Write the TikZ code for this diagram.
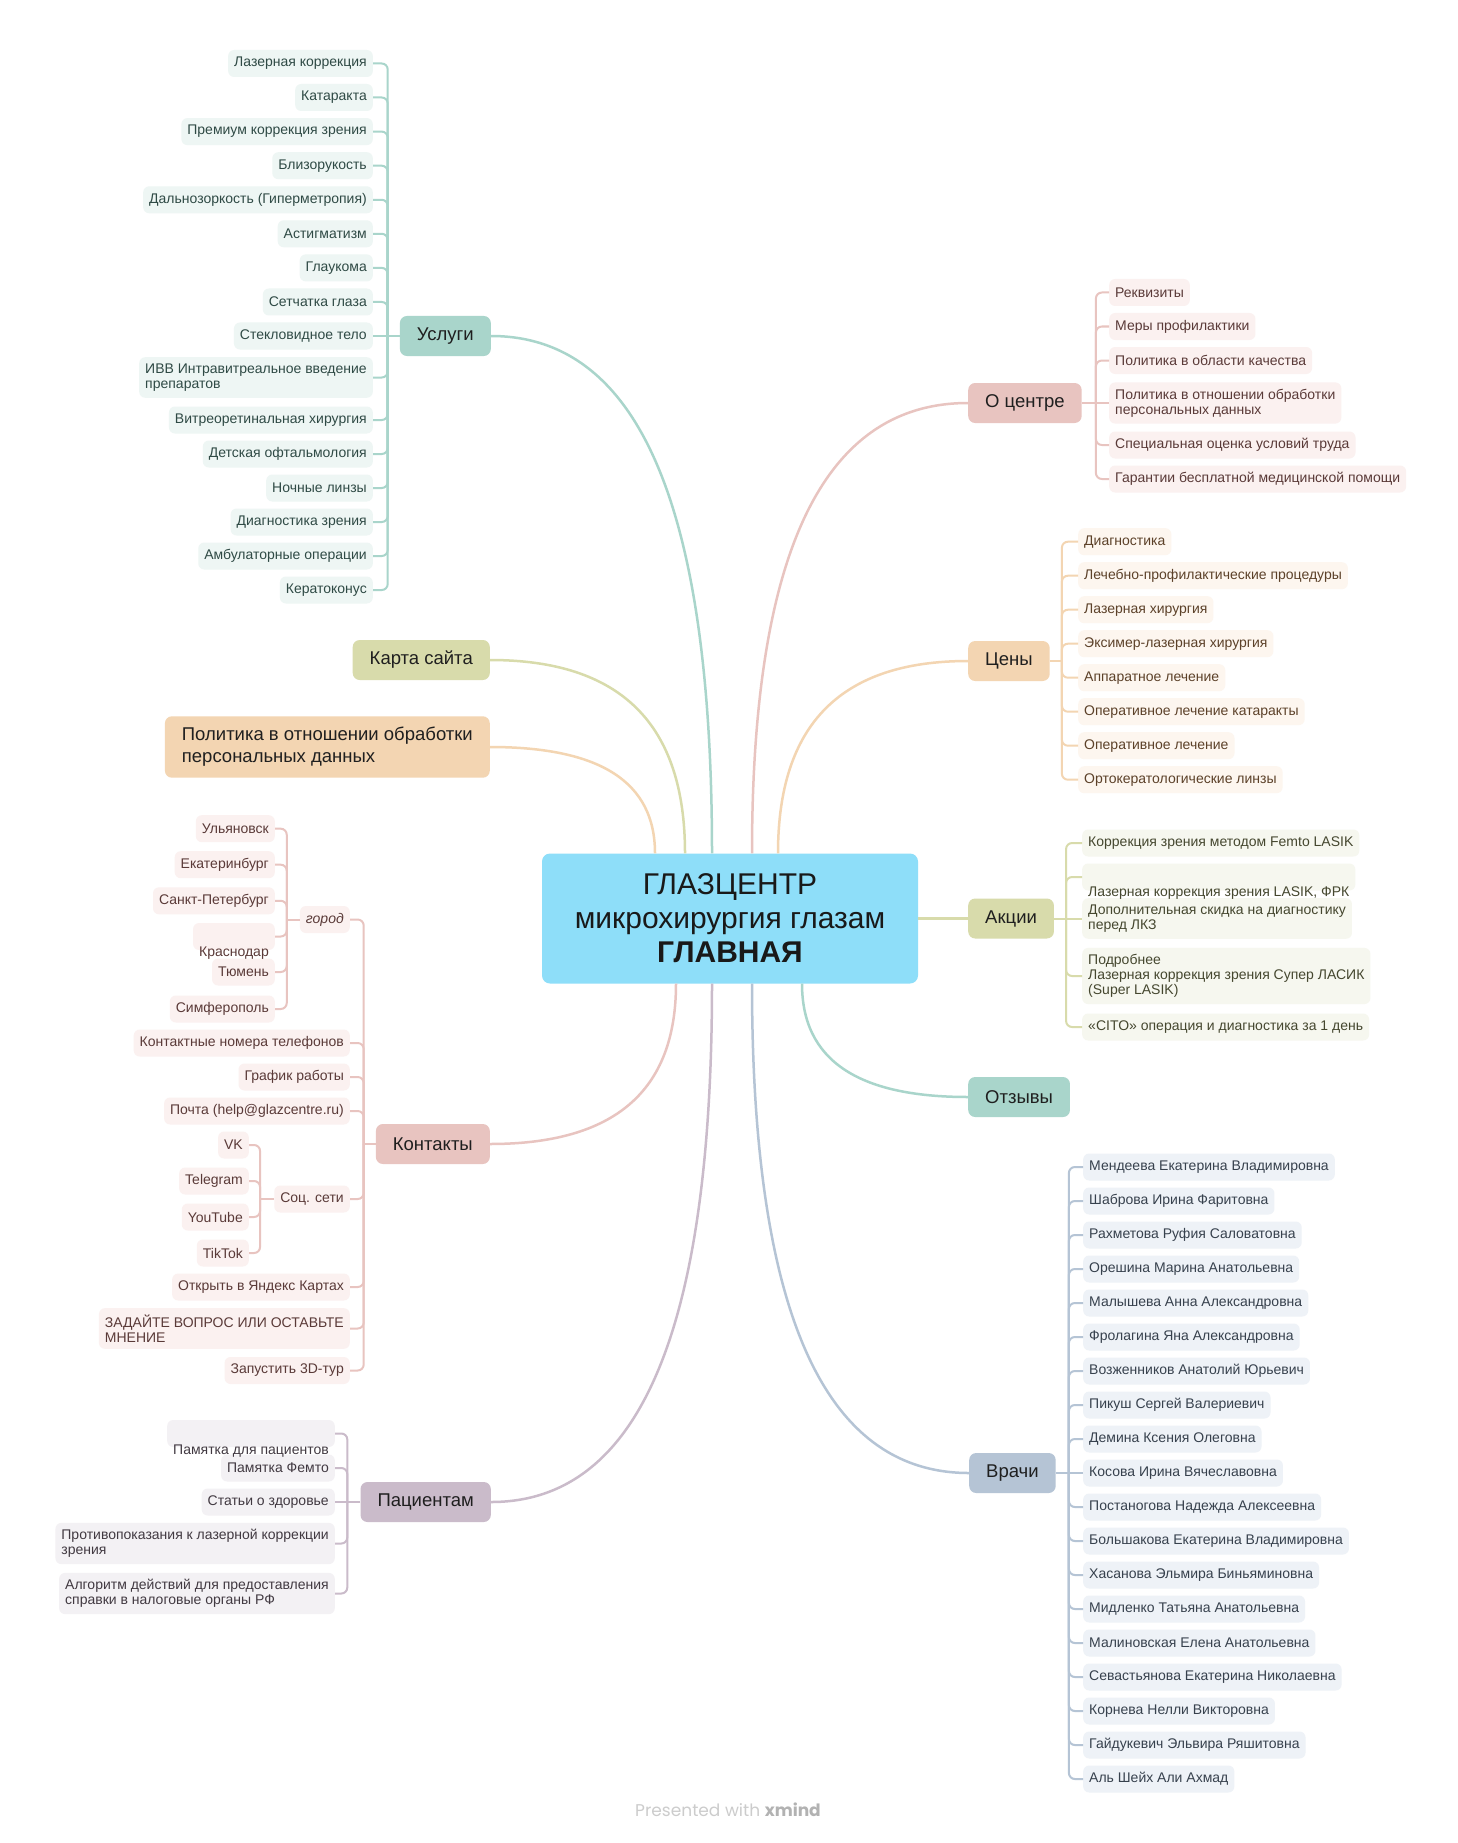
\documentclass[tikz,border=0pt]{standalone}
\usepackage{fontspec}
\setmainfont{Liberation Sans}
\newfontfamily\footfont{Poppins}
\usetikzlibrary{calc}

\definecolor{tealhub}{HTML}{A9D5CB}
\definecolor{tealbg}{HTML}{EEF6F4}
\definecolor{tealtxt}{HTML}{2F4A45}
\definecolor{pinkhub}{HTML}{E8C4C0}
\definecolor{pinkbg}{HTML}{FBF1F0}
\definecolor{pinktxt}{HTML}{5A3A38}
\definecolor{peachhub}{HTML}{F3D5B2}
\definecolor{peachbg}{HTML}{FDF6EF}
\definecolor{peachtxt}{HTML}{5C4129}
\definecolor{olivehub}{HTML}{D8DBAB}
\definecolor{olivebg}{HTML}{F6F7EF}
\definecolor{olivetxt}{HTML}{45472F}
\definecolor{mauvehub}{HTML}{CABBCA}
\definecolor{mauvebg}{HTML}{F3F1F4}
\definecolor{mauvetxt}{HTML}{413941}
\definecolor{slatehub}{HTML}{B5C4D5}
\definecolor{slatebg}{HTML}{EEF2F7}
\definecolor{slatetxt}{HTML}{37414D}
\definecolor{corefill}{HTML}{8EDEF9}

\tikzset{
  core node/.style={rounded corners=8pt, fill=corefill, minimum width=376pt, minimum height=130pt, align=center, font=\fontsize{30}{34}\selectfont, text=black!90},
  main node/.style={rounded corners=7pt, fill=#1, inner xsep=17pt, inner ysep=11pt, minimum height=40pt, align=left, font=\fontsize{18.5}{22}\selectfont, text=black!88},
  leaf node/.style={rounded corners=6pt, inner xsep=6pt, inner ysep=6.5pt, minimum height=27pt, font=\fontsize{14}{15}\selectfont},
  teal leaf/.style={leaf node, fill=tealbg, text=tealtxt},
  pink leaf/.style={leaf node, fill=pinkbg, text=pinktxt},
  peach leaf/.style={leaf node, fill=peachbg, text=peachtxt},
  olive leaf/.style={leaf node, fill=olivebg, text=olivetxt},
  mauve leaf/.style={leaf node, fill=mauvebg, text=mauvetxt},
  slate leaf/.style={leaf node, fill=slatebg, text=slatetxt},
  sunk/.style={text height=9.5pt, text depth=3pt},
  curvy/.style={draw=#1, line width=2.5pt, to path={.. controls ($(\tikztostart)!.67!(\tikztostart |- \tikztotarget)$) and ($(\tikztotarget)!.67!(\tikztostart |- \tikztotarget)$) .. (\tikztotarget)}},
  twig/.style={every edge/.style={draw=#1, line width=2pt, rounded corners=6pt, to path={|- (\tikztotarget)}}},
  straight/.style={draw=#1, line width=2pt}
}

\begin{document}
\begin{tikzpicture}[x=1pt, y=-1pt]

\fill[white] (0,0) rectangle (1457,1843);
\useasboundingbox (0,0) rectangle (1457,1843);

% centre
\node[core node] (core) at (730,918.5) {ГЛАЗЦЕНТР\\микрохирургия глазам\\\textbf{ГЛАВНАЯ}};

% main topics
\node[main node=tealhub, anchor=east] (usl) at (491,336) {Услуги};
\node[main node=olivehub, anchor=east] (karta) at (490,660) {Карта сайта};
\node[main node=peachhub, anchor=east] (polit) at (490,747) {Политика в отношении обработки\\персональных данных};
\node[main node=pinkhub, anchor=east] (kont) at (490,1144) {Контакты};
\node[main node=mauvehub, anchor=east] (pac) at (491,1502) {Пациентам};
\node[main node=pinkhub, anchor=west] (ocen) at (968,403) {О центре};
\node[main node=peachhub, anchor=west] (ceny) at (968,661) {Цены};
\node[main node=olivehub, anchor=west] (akc) at (968,918.5) {Акции};
\node[main node=tealhub, anchor=west] (otz) at (968,1097) {Отзывы};
\node[main node=slatehub, anchor=west] (vrach) at (969,1473) {Врачи};

\coordinate (pUsl) at ([xshift=-18pt]core.north);
\coordinate (pKarta) at ([xshift=-45pt]core.north);
\coordinate (pPolit) at ([xshift=-75pt]core.north);
\coordinate (pOcen) at ([xshift=22pt]core.north);
\coordinate (pCeny) at ([xshift=48pt]core.north);
\coordinate (pKont) at ([xshift=-54pt]core.south);
\coordinate (pPac) at ([xshift=-18pt]core.south);
\coordinate (pVrach) at ([xshift=22pt]core.south);
\coordinate (pOtz) at ([xshift=72pt]core.south);

\draw[curvy=tealhub] (pUsl) to (usl.east);
\draw[curvy=olivehub] (pKarta) to (karta.east);
\draw[curvy=peachhub] (pPolit) to (polit.east);
\draw[curvy=pinkhub] (pOcen) to (ocen.west);
\draw[curvy=peachhub] (pCeny) to (ceny.west);
\draw[curvy=pinkhub] (pKont) to (kont.east);
\draw[curvy=mauvehub] (pPac) to (pac.east);
\draw[curvy=slatehub] (pVrach) to (vrach.west);
\draw[curvy=tealhub] (pOtz) to (otz.west);
\draw[olivehub, line width=2.5pt] (core.east) -- (akc.west);

% Услуги
\node[teal leaf, anchor=east] (u1) at (373,63.5) {Лазерная коррекция};
\node[teal leaf, anchor=east] (u2) at (373,97.5) {Катаракта};
\node[teal leaf, anchor=east] (u3) at (373,131.6) {Премиум коррекция зрения};
\node[teal leaf, anchor=east] (u4) at (373,165.7) {Близорукость};
\node[teal leaf, anchor=east] (u5) at (373,199.8) {Дальнозоркость (Гиперметропия)};
\node[teal leaf, anchor=east] (u6) at (373,233.8) {Астигматизм};
\node[teal leaf, anchor=east] (u7) at (373,267.9) {Глаукома};
\node[teal leaf, anchor=east] (u8) at (373,302) {Сетчатка глаза};
\node[teal leaf, anchor=east] (u9) at (373,336) {Стекловидное тело};
\node[teal leaf, anchor=east, align=left] (u10) at (373,377.5) {ИВВ Интравитреальное введение\\препаратов};
\node[teal leaf, anchor=east] (u11) at (373,420) {Витреоретинальная хирургия};
\node[teal leaf, anchor=east] (u12) at (373,454) {Детская офтальмология};
\node[teal leaf, anchor=east] (u13) at (373,488) {Ночные линзы};
\node[teal leaf, anchor=east] (u14) at (373,522) {Диагностика зрения};
\node[teal leaf, anchor=east] (u15) at (373,556) {Амбулаторные операции};
\node[teal leaf, anchor=east] (u16) at (373,590) {Кератоконус};

\coordinate (uS) at ([xshift=-12pt]usl.west);
\draw[straight=tealhub] (usl.west) -- (u9.east);
\path[twig=tealhub] (uS)
  edge (u1.east) edge (u2.east) edge (u3.east) edge (u4.east)
  edge (u5.east) edge (u6.east) edge (u7.east) edge (u8.east)
  edge (u10.east) edge (u11.east) edge (u12.east) edge (u13.east)
  edge (u14.east) edge (u15.east) edge (u16.east);

% О центре
\node[pink leaf, anchor=west] (o1) at (1109,292.5) {Реквизиты};
\node[pink leaf, anchor=west] (o2) at (1109,326.5) {Меры профилактики};
\node[pink leaf, anchor=west] (o3) at (1109,360.5) {Политика в области качества};
\node[pink leaf, anchor=west, align=left] (o4) at (1109,403) {Политика в отношении обработки\\персональных данных};
\node[pink leaf, anchor=west] (o5) at (1109,445) {Специальная оценка условий труда};
\node[pink leaf, anchor=west] (o6) at (1109,479) {Гарантии бесплатной медицинской помощи};

\coordinate (oS) at ([xshift=14pt]ocen.east);
\draw[straight=pinkhub] (ocen.east) -- (o4.west);
\path[twig=pinkhub] (oS)
  edge (o1.west) edge (o2.west) edge (o3.west) edge (o5.west) edge (o6.west);

% Цены
\node[peach leaf, anchor=west] (c1) at (1078,541.7) {Диагностика};
\node[peach leaf, anchor=west] (c2) at (1078,575.7) {Лечебно-профилактические процедуры};
\node[peach leaf, anchor=west] (c3) at (1078,609.7) {Лазерная хирургия};
\node[peach leaf, anchor=west] (c4) at (1078,643.7) {Эксимер-лазерная хирургия};
\node[peach leaf, anchor=west] (c5) at (1078,677.7) {Аппаратное лечение};
\node[peach leaf, anchor=west] (c6) at (1078,711.7) {Оперативное лечение катаракты};
\node[peach leaf, anchor=west] (c7) at (1078,745.7) {Оперативное лечение};
\node[peach leaf, anchor=west] (c8) at (1078,779.7) {Ортокератологические линзы};

\coordinate (cS) at ([xshift=12pt]ceny.east);
\draw[straight=peachhub] (ceny.east) -- (cS);
\path[twig=peachhub] (cS)
  edge (c1.west) edge (c2.west) edge (c3.west) edge (c4.west)
  edge (c5.west) edge (c6.west) edge (c7.west) edge (c8.west);

% Акции
\node[olive leaf, anchor=west] (a1) at (1082,843) {Коррекция зрения методом Femto LASIK};
\node[olive leaf, anchor=west, align=left] (a3) at (1082,918.5) {Дополнительная скидка на диагностику\\перед ЛКЗ};
\node[olive leaf, anchor=west, sunk] (a2) at (1082,877) {\raisebox{-16pt}{Лазерная коррекция зрения LASIK, ФРК}};
\node[olive leaf, anchor=west, align=left] (a4) at (1082,976) {Подробнее\\Лазерная коррекция зрения Супер ЛАСИК\\(Super LASIK)};
\node[olive leaf, anchor=west] (a5) at (1082,1027) {«CITO» операция и диагностика за 1 день};

\coordinate (aS) at ([xshift=12pt]akc.east);
\draw[straight=olivehub] (akc.east) -- (a3.west);
\path[twig=olivehub] (aS)
  edge (a1.west) edge (a2.west) edge (a4.west) edge (a5.west);

% Врачи
\node[slate leaf, anchor=west] (v1) at (1083,1167) {Мендеева Екатерина Владимировна};
\node[slate leaf, anchor=west] (v2) at (1083,1201) {Шаброва Ирина Фаритовна};
\node[slate leaf, anchor=west] (v3) at (1083,1235) {Рахметова Руфия Саловатовна};
\node[slate leaf, anchor=west] (v4) at (1083,1269) {Орешина Марина Анатольевна};
\node[slate leaf, anchor=west] (v5) at (1083,1303) {Малышева Анна Александровна};
\node[slate leaf, anchor=west] (v6) at (1083,1337) {Фролагина Яна Александровна};
\node[slate leaf, anchor=west] (v7) at (1083,1371) {Возженников Анатолий Юрьевич};
\node[slate leaf, anchor=west] (v8) at (1083,1405) {Пикуш Сергей Валериевич};
\node[slate leaf, anchor=west] (v9) at (1083,1439) {Демина Ксения Олеговна};
\node[slate leaf, anchor=west] (v10) at (1083,1473) {Косова Ирина Вячеславовна};
\node[slate leaf, anchor=west] (v11) at (1083,1507) {Постаногова Надежда Алексеевна};
\node[slate leaf, anchor=west] (v12) at (1083,1541) {Большакова Екатерина Владимировна};
\node[slate leaf, anchor=west] (v13) at (1083,1575) {Хасанова Эльмира Биньяминовна};
\node[slate leaf, anchor=west] (v14) at (1083,1609) {Мидленко Татьяна Анатольевна};
\node[slate leaf, anchor=west] (v15) at (1083,1643) {Малиновская Елена Анатольевна};
\node[slate leaf, anchor=west] (v16) at (1083,1677) {Севастьянова Екатерина Николаевна};
\node[slate leaf, anchor=west] (v17) at (1083,1711) {Корнева Нелли Викторовна};
\node[slate leaf, anchor=west] (v18) at (1083,1745) {Гайдукевич Эльвира Ряшитовна};
\node[slate leaf, anchor=west] (v19) at (1083,1779) {Аль Шейх Али Ахмад};

\coordinate (vS) at ([xshift=13pt]vrach.east);
\draw[straight=slatehub] (vrach.east) -- (v10.west);
\path[twig=slatehub] (vS)
  edge (v1.west) edge (v2.west) edge (v3.west) edge (v4.west) edge (v5.west)
  edge (v6.west) edge (v7.west) edge (v8.west) edge (v9.west)
  edge (v11.west) edge (v12.west) edge (v13.west) edge (v14.west) edge (v15.west)
  edge (v16.west) edge (v17.west) edge (v18.west) edge (v19.west);

% Контакты
\node[pink leaf, anchor=east, font=\fontsize{14}{15}\selectfont\itshape] (k1) at (350,919.5) {город};
\node[pink leaf, anchor=east] (k2) at (350,1043) {Контактные номера телефонов};
\node[pink leaf, anchor=east] (k3) at (350,1077) {График работы};
\node[pink leaf, anchor=east] (k4) at (350,1111) {Почта (help@glazcentre.ru)};
\node[pink leaf, anchor=east] (k5) at (350,1199) {Соц. сети};
\node[pink leaf, anchor=east] (k6) at (350,1287) {Открыть в Яндекс Картах};
\node[pink leaf, anchor=east, align=left] (k7) at (350,1328.5) {ЗАДАЙТЕ ВОПРОС ИЛИ ОСТАВЬТЕ\\МНЕНИЕ};
\node[pink leaf, anchor=east] (k8) at (350,1370.5) {Запустить 3D-тур};

\coordinate (kS) at ([xshift=-12pt]kont.west);
\draw[straight=pinkhub] (kont.west) -- (kS);
\path[twig=pinkhub] (kS)
  edge (k1.east) edge (k2.east) edge (k3.east) edge (k4.east)
  edge (k5.east) edge (k6.east) edge (k7.east) edge (k8.east);

% город
\node[pink leaf, anchor=east] (g1) at (275,828.7) {Ульяновск};
\node[pink leaf, anchor=east] (g2) at (275,864.7) {Екатеринбург};
\node[pink leaf, anchor=east] (g3) at (275,900.8) {Санкт-Петербург};
\node[pink leaf, anchor=east] (g5) at (275,972) {Тюмень};
\node[pink leaf, anchor=east, sunk] (g4) at (275,936.5) {\raisebox{-16.5pt}{Краснодар}};
\node[pink leaf, anchor=east] (g6) at (275,1009) {Симферополь};

\coordinate (gS) at ([xshift=-13pt]k1.west);
\draw[straight=pinkhub] (k1.west) -- (gS);
\path[twig=pinkhub] (gS)
  edge (g1.east) edge (g2.east) edge (g3.east)
  edge (g4.east) edge (g5.east) edge (g6.east);

% Соц. сети
\node[pink leaf, anchor=east] (s1) at (249,1145) {VK};
\node[pink leaf, anchor=east] (s2) at (249,1181) {Telegram};
\node[pink leaf, anchor=east] (s3) at (249,1217) {YouTube};
\node[pink leaf, anchor=east] (s4) at (249,1253) {TikTok};

\coordinate (sS) at ([xshift=-14pt]k5.west);
\draw[straight=pinkhub] (k5.west) -- (sS);
\path[twig=pinkhub] (sS)
  edge (s1.east) edge (s2.east) edge (s3.east) edge (s4.east);

% Пациентам
\node[mauve leaf, anchor=east] (p2) at (335,1468) {Памятка Фемто};
\node[mauve leaf, anchor=east, sunk] (p1) at (335,1433.5) {\raisebox{-17.5pt}{Памятка для пациентов}};
\node[mauve leaf, anchor=east] (p3) at (335,1502) {Статьи о здоровье};
\node[mauve leaf, anchor=east, align=left] (p4) at (335,1543.5) {Противопоказания к лазерной коррекции\\зрения};
\node[mauve leaf, anchor=east, align=left] (p5) at (335,1593.5) {Алгоритм действий для предоставления\\справки в налоговые органы РФ};

\coordinate (pS) at ([xshift=-13pt]pac.west);
\draw[straight=mauvehub] (pac.west) -- (p3.east);
\path[twig=mauvehub] (pS)
  edge (p1.east) edge (p2.east) edge (p4.east) edge (p5.east);

% footer
\node[font=\footfont\fontsize{17}{20}\selectfont] (foot) at (728,1810) {\textcolor{black!20}{Presented with} \textcolor{black!30}{\bfseries xmind}};

\end{tikzpicture}
\end{document}
